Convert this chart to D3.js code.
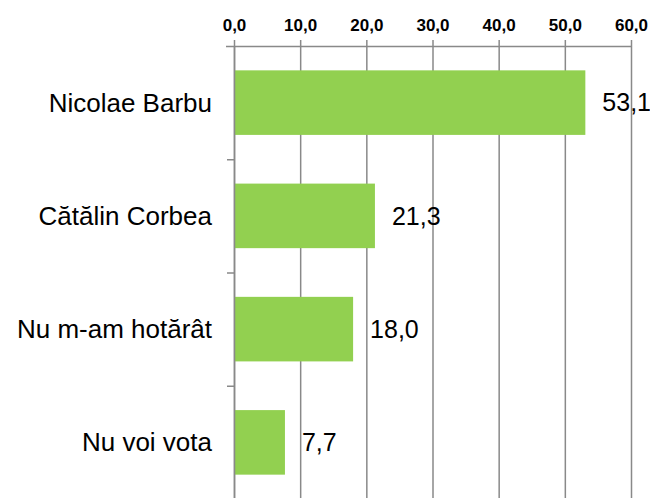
<!DOCTYPE html>
<html>
<head>
<meta charset="utf-8">
<script src="https://cdn.jsdelivr.net/npm/d3@7"></script>
<style>
  body { margin: 0; background: #fff; }
  svg { display: block; }
</style>
</head>
<body>
<svg id="chart"></svg>
<script>
// date
const categories = ["Nicolae Barbu", "Cătălin Corbea", "Nu m-am hotărât", "Nu voi vota"];
const values = [53.1, 21.3, 18.0, 7.7];
const tickValues = [0, 10, 20, 30, 40, 50, 60];

const width = 650, height = 498;
const marginTop = 46, marginLeft = 234, marginRight = 19;
const lineColor = "#898989";
const fmt = d => d.toFixed(1).replace(".", ",");

const svg = d3.select("#chart")
    .attr("width", width)
    .attr("height", height);

// scara x (valori)
const x = d3.scaleLinear()
    .domain([0, 60])
    .range([marginLeft, width - marginRight]);

// scara y (categorii)
const y = d3.scaleBand()
    .domain(categories)
    .range([marginTop, height + 1])
    .paddingInner(0.43)
    .paddingOuter(0.215);

// liniile verticale de grilă
svg.append("g")
    .attr("transform", `translate(0,${marginTop})`)
    .call(d3.axisTop(x).tickValues(tickValues).tickSize(-(height - marginTop)).tickFormat(""))
    .call(g => g.select(".domain").remove())
    .call(g => g.selectAll("line").attr("stroke", lineColor).attr("stroke-width", 1.5));

// bare
svg.append("g")
    .attr("fill", "#92D050")
  .selectAll("rect")
  .data(values)
  .join("rect")
    .attr("x", x(0))
    .attr("y", (d, i) => y(categories[i]))
    .attr("width", d => x(d) - x(0))
    .attr("height", y.bandwidth());

// axa de sus
svg.append("g")
    .attr("transform", `translate(0,${marginTop})`)
    .call(d3.axisTop(x).tickValues(tickValues).tickSize(6).tickSizeOuter(0).tickPadding(9).tickFormat(fmt))
    .call(g => g.select(".domain").attr("d", `M${marginLeft - 8},0.5H${x(60)}`)
        .attr("stroke", lineColor).attr("stroke-width", 1.5))
    .call(g => g.selectAll(".tick line").attr("stroke", lineColor).attr("stroke-width", 1.5))
    .call(g => g.selectAll("text")
        .attr("fill", "#000")
        .style("font", "bold 17px 'Liberation Sans', Arial, sans-serif"));

// axa din stânga: liniuțe între categorii
const yEdge = d3.scaleLinear()
    .domain([0, categories.length])
    .range([marginTop, marginTop + y.step() * categories.length]);

svg.append("g")
    .attr("transform", `translate(${marginLeft},0)`)
    .call(d3.axisLeft(yEdge).tickValues([1, 2, 3]).tickSize(7).tickSizeOuter(0).tickFormat(""))
    .call(g => g.select(".domain").attr("stroke", lineColor).attr("stroke-width", 1.5))
    .call(g => g.selectAll(".tick line").attr("stroke", lineColor).attr("stroke-width", 1.5));

// etichetele categoriilor
svg.append("g")
  .selectAll("text")
  .data(categories)
  .join("text")
    .attr("x", marginLeft - 22)
    .attr("y", d => y(d) + y.bandwidth() / 2)
    .attr("dy", "0.35em")
    .attr("text-anchor", "end")
    .style("font", "26px 'Liberation Sans', Arial, sans-serif")
    .text(d => d);

// etichetele valorilor
svg.append("g")
  .selectAll("text")
  .data(values)
  .join("text")
    .attr("x", d => x(d) + 17)
    .attr("y", (d, i) => y(categories[i]) + y.bandwidth() / 2)
    .attr("dy", "0.35em")
    .style("font", "25px 'Liberation Sans Narrow', 'Liberation Sans', sans-serif")
    .text(fmt);
</script>
</body>
</html>
